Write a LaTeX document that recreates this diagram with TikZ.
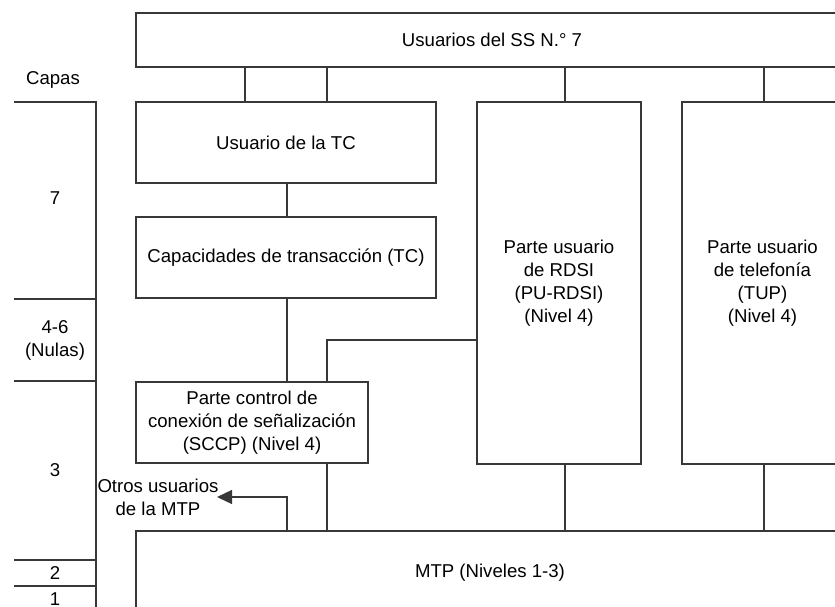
\documentclass[tikz,border=0pt]{standalone}
\usepackage{fontspec}
\setmainfont{Liberation Sans}
\usetikzlibrary{arrows.meta}
\definecolor{edge}{gray}{0.22}
\begin{document}
\begin{tikzpicture}[x=1pt,y=-1pt,
  txt/.style={font=\fontsize{18.6}{23}\selectfont, align=center, inner sep=0pt},
  box/.style={txt, draw=edge, line width=1.3pt},
  wire/.style={draw=edge, line width=1.3pt},
  arrowline/.style={wire, -{Triangle[length=15pt,width=14pt]}}]
\useasboundingbox (0,0) rectangle (835,607);
\clip (0,0) rectangle (835,607);

% protocol blocks
\node[box, minimum width=712pt, minimum height=54pt] (ss7)  at (492,40)    {Usuarios del SS N.\textdegree\ 7};
\node[box, minimum width=300pt, minimum height=81pt] (tcu)  at (286,142.5) {Usuario de la TC};
\node[box, minimum width=300pt, minimum height=81pt] (tc)   at (286,257.5) {Capacidades de transacción (TC)};
\node[box, minimum width=232pt, minimum height=81pt] (sccp) at (252,422.5) {Parte control de\\conexión de señalización\\(SCCP) (Nivel 4)};
\node[box, minimum width=164pt, minimum height=362pt] (rdsi) at (559,283)  {Parte usuario\\de RDSI\\(PU-RDSI)\\(Nivel 4)};
\node[box, minimum width=161pt, minimum height=362pt] (tup)  at (762.5,283) {Parte usuario\\de telefonía\\(TUP)\\(Nivel 4)};
\node[box, minimum width=708pt, minimum height=84pt] (mtp)  at (490,573)   {MTP (Niveles 1-3)};
\node[txt] (otros) at (158,497) {Otros usuarios\\de la MTP};

% vertical tracks used by the connectors
\coordinate (xa) at (245,0);
\coordinate (xb) at (327,0);
\coordinate (xc) at (287,0);
\coordinate (xd) at (565,0);
\coordinate (xe) at (764,0);
\coordinate (ylink) at (0,340);
\coordinate (otip) at (217,497);

% connectors
\draw[wire] (xa |- ss7.south) -- (xa |- tcu.north);
\draw[wire] (xb |- ss7.south) -- (xb |- tcu.north);
\draw[wire] (xd |- ss7.south) -- (xd |- rdsi.north);
\draw[wire] (xe |- ss7.south) -- (xe |- tup.north);
\draw[wire] (xc |- tcu.south) -- (xc |- tc.north);
\draw[wire] (xc |- tc.south) -- (xc |- sccp.north);
\draw[wire] (xb |- sccp.north) |- (rdsi.west |- ylink);
\draw[wire] (xb |- sccp.south) -- (xb |- mtp.north);
\draw[wire] (xd |- rdsi.south) -- (xd |- mtp.north);
\draw[wire] (xe |- tup.south) -- (xe |- mtp.north);
\draw[arrowline] (xc |- mtp.north) |- (otip);

% layer scale on the left
\node[txt] (capas) at (53,80) {Capas};
\draw[wire] (14,102) -- (96,102) -- (96,610);
\draw[wire] (14,299) -- (96,299);
\draw[wire] (14,381) -- (96,381);
\draw[wire] (14,560) -- (96,560);
\draw[wire] (14,586) -- (96,586);
\node[txt] (l7)  at (55,198) {7};
\node[txt] (l46) at (55,340) {4-6\\(Nulas)};
\node[txt] (l3)  at (55,470) {3};
\node[txt] (l2)  at (55,573) {2};
\node[txt] (l1)  at (55,599) {1};
\end{tikzpicture}
\end{document}
